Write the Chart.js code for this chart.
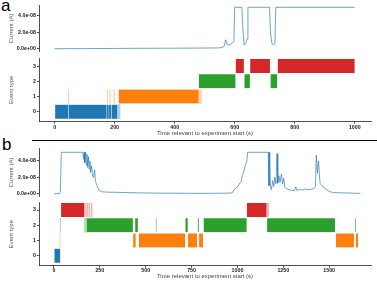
<!DOCTYPE html>
<html><head><meta charset="utf-8">
<script src="https://cdn.jsdelivr.net/npm/chart.js@4"></script>
<style>
html,body{margin:0;padding:0;background:#fff;}
#wrap{position:relative;width:377px;height:282px;overflow:hidden;font-family:"Liberation Sans",Arial,sans-serif;}
.cv{position:absolute;left:0;width:377px;}
.lab{position:absolute;font-size:17px;line-height:1;color:#000;}
#sep{position:absolute;left:32px;top:140px;width:345px;height:1px;background:#000;}
</style></head>
<body><div id="wrap">
<div class="lab" style="left:1px;top:-3px">a</div>
<div class="lab" style="left:2px;top:136px">b</div>
<div id="sep"></div>
<div class="cv" style="top:0;height:56px"><canvas id="aTop"></canvas></div>
<div class="cv" style="top:53px;height:87px"><canvas id="aBot"></canvas></div>
<div class="cv" style="top:142px;height:59px"><canvas id="bTop"></canvas></div>
<div class="cv" style="top:198px;height:84px"><canvas id="bBot"></canvas></div>
</div>
<script>
// ---------- data: panel a ----------
const aTime    = [0,100,200,300,400,500,550,560,565,570,575,585,592,597,600,624,627,631,636,641,644,716,719,724,730,734,737,1000];
const aCurrent = [0.02e-8,0.03e-8,0.05e-8,0.07e-8,0.08e-8,0.1e-8,0.12e-8,0.2e-8,0.3e-8,1.1e-8,0.5e-8,0.5e-8,0.7e-8,0.9e-8,5.05e-8,5.05e-8,2.5e-8,0.5e-8,0.6e-8,1.2e-8,5.05e-8,5.05e-8,2.0e-8,0.6e-8,0.5e-8,0.8e-8,5.05e-8,5.05e-8];
const aEventType  = [0,0,0,0,0, 1, 2,2,2, 3,3,3];
const aEventStart = [0,46,174,181,190, 213, 480,632,719, 603,651,743];
const aEventEnd   = [46,174,181,190,209, 480, 603,651,742, 631,718,1000];
const aBriefType  = [0, 1,1,1,1,1];
const aBriefStart = [209, 45,175,184,197,480];
const aBriefEnd   = [218, 47,177,186,200,489];
const aTimeTicks  = [0,200,400,600,800,1000];

// ---------- data: panel b ----------
const bTime    = [0,30,35,40,158,162,165,168,172,176,180,184,188,192,196,200,205,210,215,222,226,235,245,260,300,400,500,600,700,800,900,970,990,1000,1010,1020,1028,1036,1043,1050,1056,1168,1172,1176,1180,1185,1192,1198,1204,1210,1216,1220,1226,1232,1240,1246,1252,1258,1270,1290,1310,1318,1324,1340,1355,1370,1385,1400,1415,1425,1430,1436,1442,1450,1460,1480,1500,1520,1600,1670];
const bCurrent = [0,0.02e-8,0.2e-8,5.05e-8,5.05e-8,4.2e-8,5.05e-8,3.8e-8,5.05e-8,3.5e-8,4.8e-8,3.2e-8,4.5e-8,3.0e-8,4.0e-8,2.6e-8,3.4e-8,2.2e-8,2.0e-8,2.9e-8,1.5e-8,1.0e-8,0.45e-8,0.25e-8,0.2e-8,0.15e-8,0.1e-8,0.08e-8,0.07e-8,0.06e-8,0.07e-8,0.1e-8,0.7e-8,0.8e-8,1.2e-8,1.5e-8,2.3e-8,2.8e-8,3.5e-8,3.8e-8,5.05e-8,5.05e-8,1.0e-8,5.05e-8,0.8e-8,0.5e-8,1.6e-8,0.9e-8,2.0e-8,1.2e-8,4.9e-8,1.3e-8,2.2e-8,1.4e-8,2.4e-8,1.2e-8,1.9e-8,0.8e-8,0.6e-8,0.45e-8,0.4e-8,0.85e-8,0.4e-8,0.55e-8,0.45e-8,0.6e-8,0.5e-8,0.55e-8,0.6e-8,0.9e-8,4.7e-8,2.5e-8,4.0e-8,1.3e-8,1.0e-8,0.6e-8,0.3e-8,0.15e-8,0.1e-8,0.05e-8];
const bEventType  = [0, 3,3, 2,2,2,2,2,2,2, 1,1,1,1,1,1];
const bEventStart = [0, 38,1051, 178,442,716,783,815,1161,1640, 431,462,730,790,1536,1645];
const bEventEnd   = [35, 165,1159, 431,458,730,790,1051,1533,1645, 446,716,781,813,1636,1659];
const bBriefType  = [3,3,3,3,3, 2,2,2, 1];
const bBriefStart = [165,178,190,203,1159, 34,165,556, 31];
const bBriefEnd   = [172,184,195,208,1170, 37,178,560, 34];
const bTimeTicks  = [0,250,500,750,1000,1250,1500];

// ---------- shared ticks ----------
const currentTicks      = [0, 2e-8, 4e-8];
const currentTickLabels = ['0.0e+00','2.0e-08','4.0e-08'];
const eventTypeTicks    = [0,1,2,3];
const xTitle = 'Time relevant to experiment start (s)';

const typeColors = ['#1f77b4','#ff7f0e','#2ca02c','#d62728'];
const typeFaint  = ['rgba(31,119,180,0.35)','rgba(255,127,14,0.35)','rgba(44,160,44,0.35)','rgba(214,39,40,0.35)'];
const FONT = '"Liberation Sans", Arial, sans-serif';
const tickFont = {family: FONT, size: 5.3, weight: 'bold'};
const titleFont = {family: FONT, size: 6};

function yAxisBase(tickVals, tickLabels, title, min, max) {
  return {
    type: 'linear', min: min, max: max, offset: false,
    afterFit: s => { s.width = 39; },
    afterBuildTicks: s => { s.ticks = tickVals.map(v => ({value: v})); },
    ticks: { font: tickFont, color: '#222', padding: 1, autoSkip: false,
             callback: (v) => { const i = tickVals.indexOf(v); return i >= 0 ? tickLabels[i] : ''; } },
    grid: { display: true, offset: false, drawOnChartArea: false, drawTicks: true, tickLength: 2, color: '#222', lineWidth: 0.8 },
    border: { display: true, color: '#222', width: 0.8 },
    title: { display: true, text: title, font: titleFont, color: '#555', padding: {top: 8, bottom: 0} }
  };
}

function lineChart(id, times, currents, xmin, xmax, ymin, ymax, padTop, padBottom) {
  new Chart(document.getElementById(id), {
    type: 'line',
    data: { datasets: [{
      data: times.map((t, i) => ({x: t, y: currents[i]})),
      borderColor: 'rgba(31,119,180,0.65)', borderWidth: 1, pointRadius: 0, tension: 0, fill: false
    }]},
    options: {
      responsive: true, maintainAspectRatio: false, animation: false,
      layout: { padding: {top: padTop, right: 6, bottom: padBottom, left: 0} },
      plugins: { legend: {display: false}, tooltip: {enabled: false} },
      scales: {
        x: { type: 'linear', min: xmin, max: xmax, display: false },
        y: yAxisBase(currentTicks, currentTickLabels, 'Current (A)', ymin, ymax)
      }
    }
  });
}

function eventChart(id, types, starts, ends, bTypes, bStarts, bEnds, xTicks, xmin, xmax, ymin, ymax, padTop, xHeight, tickPad, titlePadBottom) {
  const datasets = [];
  for (let k = 0; k < 4; k++) {
    const solid = [], faint = [];
    types.forEach((ty, i) => { if (ty === k) solid.push({x: [starts[i], ends[i]], y: ty}); });
    bTypes.forEach((ty, i) => { if (ty === k) faint.push({x: [bStarts[i], bEnds[i]], y: ty}); });
    datasets.push({ data: faint, backgroundColor: typeFaint[k], borderWidth: 0 });
    datasets.push({ data: solid, backgroundColor: typeColors[k], borderColor: 'rgba(255,255,255,0.7)',
                    borderWidth: {left: 0.5, right: 0.5, top: 0, bottom: 0}, borderSkipped: false });
  }
  new Chart(document.getElementById(id), {
    type: 'bar',
    data: { datasets: datasets },
    options: {
      indexAxis: 'y', responsive: true, maintainAspectRatio: false, animation: false,
      grouped: false, barThickness: 14,
      layout: { padding: {top: padTop, right: 6, bottom: 0, left: 0} },
      plugins: { legend: {display: false}, tooltip: {enabled: false} },
      scales: {
        x: {
          type: 'linear', min: xmin, max: xmax,
          afterFit: s => { s.height = xHeight; },
          afterBuildTicks: s => { s.ticks = xTicks.map(v => ({value: v})); },
          ticks: { font: tickFont, color: '#222', padding: tickPad, autoSkip: false, maxRotation: 0,
                   callback: (v) => String(v) },
          grid: { display: true, drawOnChartArea: false, drawTicks: true, tickLength: 2, color: '#222', lineWidth: 0.8 },
          border: { display: true, color: '#222', width: 0.8 },
          title: { display: true, text: xTitle, font: titleFont, color: '#444', padding: {top: 0, bottom: titlePadBottom} }
        },
        y: yAxisBase(eventTypeTicks, eventTypeTicks.map(String), 'Event type', ymin, ymax)
      }
    }
  });
}

lineChart('aTop', aTime, aCurrent, -52, 1054, -0.36e-8, 5.33e-8, 5, 1);
eventChart('aBot', aEventType, aEventStart, aEventEnd, aBriefType, aBriefStart, aBriefEnd, aTimeTicks, -52, 1054, -0.66, 3.53, 5, 18.3, 1, 2.9);
lineChart('bTop', bTime, bCurrent, -81.5, 1728, -0.364e-8, 5.576e-8, 6, 1);
eventChart('bBot', bEventType, bEventStart, bEventEnd, bBriefType, bBriefStart, bBriefEnd, bTimeTicks, -81.5, 1728, -0.66, 3.48, 4.7, 16.3, 0, 1.7);
</script>
</body></html>
